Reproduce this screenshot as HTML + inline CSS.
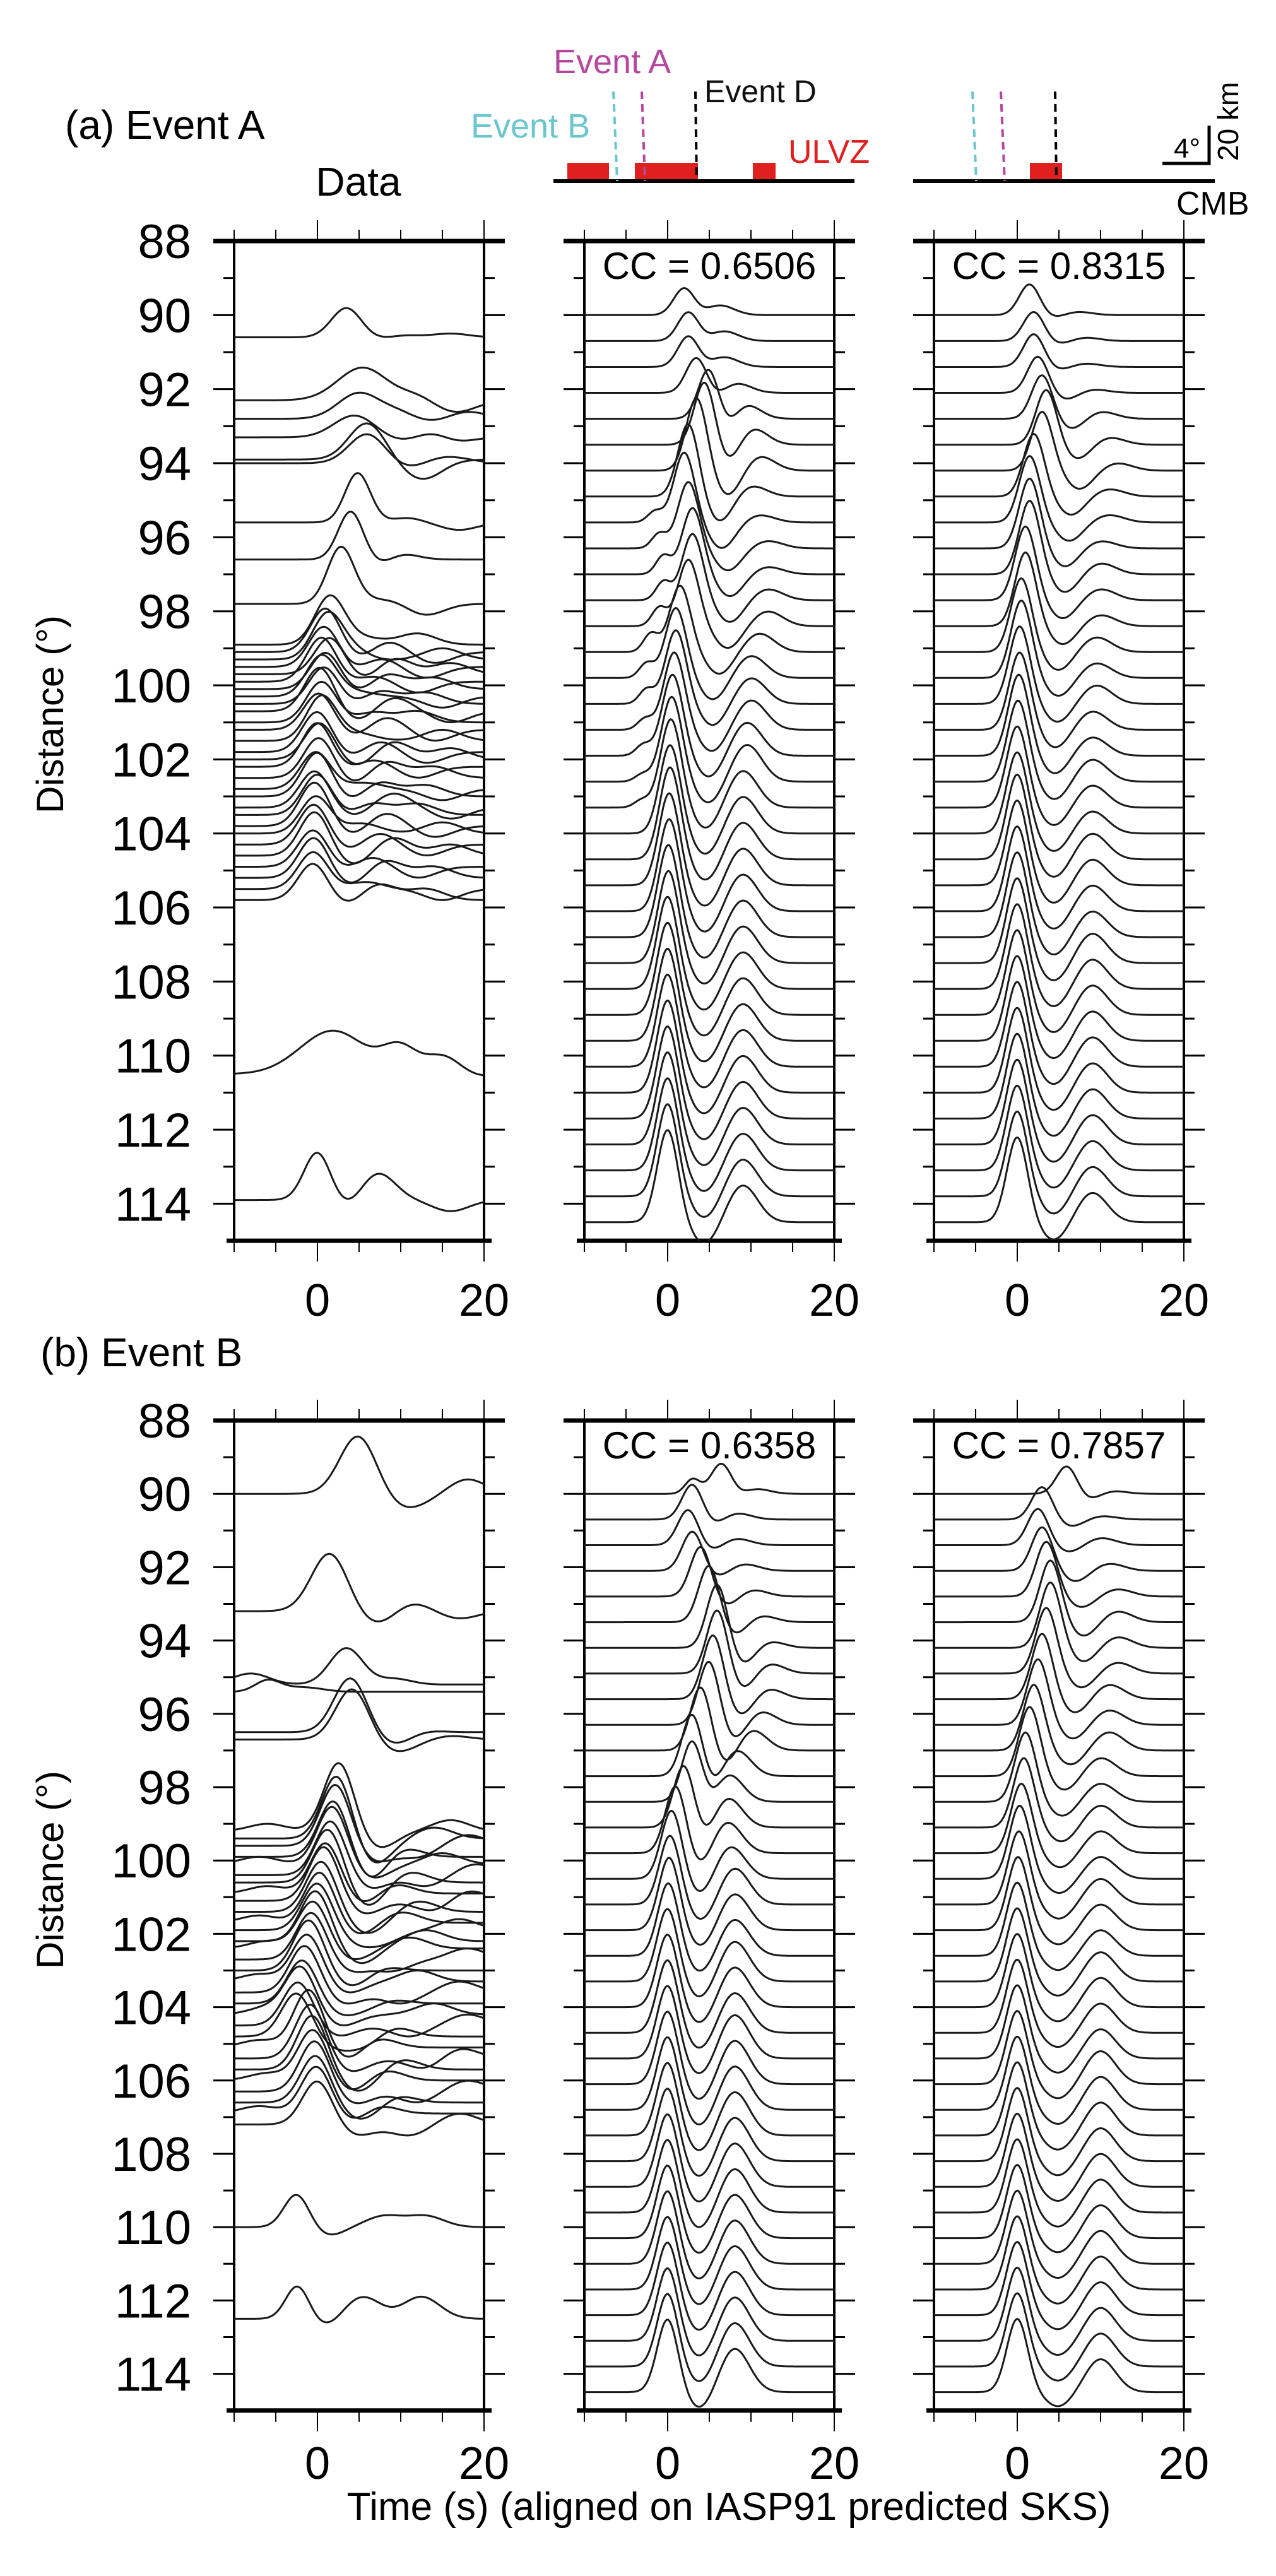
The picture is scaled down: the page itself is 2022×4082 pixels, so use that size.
<!DOCTYPE html>
<html><head><meta charset="utf-8">
<style>
html,body{margin:0;padding:0;background:#fff;}
svg{display:block;}
text{font-family:"Liberation Sans",Arial,sans-serif;}
</style></head>
<body>
<svg id="fig" width="2022" height="4082" viewBox="0 0 2022 4082" xmlns="http://www.w3.org/2000/svg">
<g id="header">
  <text x="103" y="220" font-size="64">(a) Event A</text>
  <text x="568" y="310" font-size="64" text-anchor="middle">Data</text>
  <text x="877" y="116" font-size="54" fill="#b5479e">Event A</text>
  <text x="1116" y="162" font-size="50" fill="#111">Event D</text>
  <text x="746" y="218" font-size="54" fill="#6cc6cd">Event B</text>
  <text x="1249" y="258" font-size="52" fill="#e0201e">ULVZ</text>
  <rect x="899" y="258" width="66" height="28" fill="#e0201e"/>
  <rect x="1006" y="258" width="100" height="28" fill="#e0201e"/>
  <rect x="1193" y="258" width="36" height="28" fill="#e0201e"/>
  <line x1="877" y1="287" x2="1354" y2="287" stroke="#000" stroke-width="6"/>
  <line x1="972" y1="145" x2="978" y2="287" stroke="#6cc6cd" stroke-width="4" stroke-dasharray="12,8"/>
  <line x1="1017" y1="145" x2="1022" y2="287" stroke="#b5479e" stroke-width="4" stroke-dasharray="12,8"/>
  <line x1="1102" y1="145" x2="1104" y2="287" stroke="#000" stroke-width="4" stroke-dasharray="12,8"/>
  <rect x="1632" y="258" width="51" height="28" fill="#e0201e"/>
  <line x1="1447" y1="287" x2="1925" y2="287" stroke="#000" stroke-width="6"/>
  <line x1="1541" y1="145" x2="1547" y2="287" stroke="#6cc6cd" stroke-width="4" stroke-dasharray="12,8"/>
  <line x1="1586" y1="145" x2="1592" y2="287" stroke="#b5479e" stroke-width="4" stroke-dasharray="12,8"/>
  <line x1="1672" y1="145" x2="1674" y2="287" stroke="#000" stroke-width="4" stroke-dasharray="12,8"/>
  <polyline points="1842,259 1916,259 1916,199" fill="none" stroke="#000" stroke-width="5"/>
  <text x="1860" y="250" font-size="44">4°</text>
  <text x="0" y="0" font-size="46" transform="translate(1962,255) rotate(-90)">20 km</text>
  <text x="1864" y="340" font-size="52">CMB</text>
</g>
<g id="axes"></g>
<g id="traces"></g>
<text x="0" y="0" font-size="60" text-anchor="middle" transform="translate(100,1132) rotate(-90)">Distance (°)</text>
<text x="0" y="0" font-size="60" text-anchor="middle" transform="translate(100,2963) rotate(-90)">Distance (°)</text>
<text x="64" y="2165" font-size="64">(b) Event B</text>
<text x="1155" y="3993" font-size="62" text-anchor="middle">Time (s) (aligned on IASP91 predicted SKS)</text>
</svg>
<script>
// ---------- data ----------
const yTickLabels = [88,90,92,94,96,98,100,102,104,106,108,110,112,114];
const xTickLabels = [0,20];
const ccLabels = ["CC = 0.6506","CC = 0.8315","CC = 0.6358","CC = 0.7857"];

// Event A data
const aDataDist = [90.6,92.3,92.8,93.3,93.9,94.0,95.6,96.6,97.8,98.9,99.1,99.3,99.5,99.7,99.9,100.1,100.3,100.5,100.7,101.0,101.2,101.5,101.8,102.0,102.2,102.5,102.8,103.0,103.3,103.5,103.8,104.0,104.3,104.6,104.9,105.2,105.5,105.8,110.5,113.9];
const aDataT1 = [3.5,5.5,5,4.5,6,6,4.8,4,2.8,1.5,1,1.2,0.8,1.5,0.5,1,0.5,0.8,0.3,0.5,0.2,0.5,0,0.3,0,0.2,-0.2,0,-0.3,0,-0.3,-0.2,-0.4,-0.3,-0.5,-0.4,-0.5,-0.5,2,0];
const aDataA1 = [0.8,0.9,0.7,0.6,1.0,0.8,1.3,1.3,1.5,1.3,1.2,1.2,1.1,1.0,1.2,1.0,1.1,1.0,1.2,1.1,1.0,1.2,1.1,1.0,1.2,1.1,1.0,1.2,1.0,1.1,1.2,1.0,1.1,1.2,1.0,1.1,1.0,1.0,1.2,1.3];
const aDataW1 = [1.8,3,2.5,2.5,2.2,2.2,1.5,1.5,1.6,1.8,1.8,1.8,1.8,1.8,1.8,1.8,1.8,1.8,1.8,1.8,1.8,1.8,1.8,1.8,1.8,1.8,1.8,1.8,1.8,1.8,1.8,1.8,1.8,1.8,1.8,1.8,1.8,1.8,4,1.6];
const aDataT2 = [9,12,10,14,13,14,9,9,7,6,8,5,7,9,6,8,5,7,9,6,8,5,7,9,6,8,5,7,9,6,8,5,7,9,6,8,5,7,10,7];
const aDataA2 = [0.2,0.3,0.3,0.3,-0.3,0.2,0.4,0.3,0.5,0.5,0.4,0.5,0.4,0.5,0.4,0.5,0.4,0.5,0.4,0.5,0.4,0.5,0.4,0.5,0.4,0.5,0.4,0.5,0.4,0.5,0.4,0.5,0.4,0.5,0.4,0.5,0.4,0.5,0.9,0.8];
const aDataT3 = [16,17,18,16,19,17,17,16,13,12,14,15,13,16,12,14,15,13,16,12,14,15,13,16,12,14,15,13,16,12,14,15,13,16,12,14,15,13,15,16];
const aDataA3 = [0.1,-0.2,0.2,-0.2,0.0,0.1,-0.2,0.0,-0.3,0.3,-0.3,0.3,-0.3,0.3,-0.3,0.3,-0.3,0.3,-0.3,0.3,-0.3,0.3,-0.3,0.3,-0.3,0.3,-0.3,0.3,-0.3,0.3,-0.3,0.3,-0.3,0.3,-0.3,0.3,-0.3,0.3,0.7,-0.3];

// Event B data
const bDataDist = [90.0,93.2,95.2,95.4,96.5,96.7,99.2,99.4,99.6,99.9,100.1,100.4,100.6,100.9,101.1,101.4,101.7,101.9,102.2,102.4,102.7,103.0,103.3,103.6,103.9,104.2,104.5,104.8,105.1,105.4,105.7,106.0,106.3,106.6,106.9,107.2,110.0,112.5];
const bDataT1 = [4.9,1.5,3.5,-6,4,4.2,2.6,2.4,2.2,2.0,1.8,1.6,1.3,1.0,0.8,0.5,0.3,0,-0.2,-0.5,-0.7,-1,-1.2,-1.5,-1.8,-2,-2.3,-2.5,-1,-0.8,-0.6,-0.5,-0.3,-0.2,-0.1,0,-2.5,-2.4];
const bDataA1 = [1.6,1.6,1.0,0.3,1.5,1.4,1.9,1.8,1.7,1.6,1.6,1.5,1.5,1.4,1.5,1.4,1.4,1.3,1.4,1.3,1.3,1.4,1.3,1.3,1.2,1.3,1.2,1.2,1.6,1.5,1.5,1.4,1.4,1.3,1.3,1.2,0.9,0.9];
const bDataW1 = [2.2,2.2,2,1.5,2,2,1.8,1.8,1.8,1.8,1.8,1.8,1.8,1.8,1.8,1.8,1.8,1.8,1.8,1.8,1.8,1.8,1.8,1.8,1.8,1.8,1.8,1.8,1.8,1.8,1.8,1.8,1.8,1.8,1.8,1.8,1.5,1.4];
const bDataT2 = [18,11,9,-2,12,16,16,14,12,10,15,13,11,9,14,12,10,8,13,11,9,7,12,10,8,14,11,9,7,13,10,8,12,9,7,11,8,5.4];
const bDataA2 = [0.4,0.3,0.4,0.2,0.1,0.1,0.3,0.3,-0.3,0.3,0.3,-0.3,0.3,0.3,-0.3,0.3,0.3,-0.3,0.3,0.3,-0.3,0.3,0.3,-0.3,0.3,0.3,-0.3,0.3,0.3,-0.3,0.3,0.3,-0.3,0.3,0.3,-0.3,0.3,0.6];
const bDataT3 = [-4,17,-8,15,-8,-8,-6,6,18,6,-7,19,6,-6,18,7,-7,17,6,-6,18,6,-7,17,7,-6,18,6,-7,17,6,-6,18,7,-7,17,13,12.5];
const bDataA3 = [0,-0.2,0.3,0,0,0,0.2,-0.3,0.3,-0.3,0.2,0.3,-0.3,0.2,0.3,-0.3,0.2,0.3,-0.3,0.2,0.3,-0.3,0.2,0.3,-0.3,0.2,0.3,-0.3,0.2,0.3,-0.3,0.2,0.3,-0.3,0.2,0.3,0.3,0.6];

// Synthetics (shared distances)
const synDist = [90.0,90.7,91.4,92.1,92.8,93.5,94.2,94.9,95.6,96.3,97.0,97.7,98.4,99.1,99.8,100.5,101.2,101.9,102.6,103.3,104.0,104.7,105.4,106.1,106.8,107.5,108.2,108.9,109.6,110.3,111.0,111.7,112.4,113.1,113.8,114.5];

const a2T1 = [2,2.5,2.5,3.5,5,4.5,3.5,2.5,2,2.5,3,3,2.5,1.5,1,1,0.8,0.6,0.5,0.4,0.3,0.3,0.2,0.2,0.1,0.1,0,0,0,0,0,0,0,0,0,0];
const a2A1 = [0.75,0.8,0.85,1.0,1.5,1.8,2.0,2.0,1.9,1.8,1.8,1.8,1.8,1.8,1.9,2.0,2.1,2.2,2.3,2.4,2.4,2.5,2.5,2.5,2.5,2.5,2.5,2.5,2.5,2.5,2.5,2.5,2.5,2.5,2.5,2.5];
const a2T2 = [6,6.5,6.5,8,9,10,11,10,11,12,12,12,12,11,10,10,10,9.5,9.5,9,9,9,9,9,9,9,9,9,9,9,9,9,9,9,9,9];
const a2A2 = [0.3,0.3,0.3,0.3,0.5,0.5,0.4,0.3,0.2,0.2,0.2,0.3,0.4,0.5,0.6,0.7,0.8,0.9,1,1,1,1,1,1,1,1,1,1,1,1,1,1,1,1,1,1];
const a2Tr = [0.1,0.1,0.1,0.2,0.5,0.6,0.7,0.7,0.7,0.6,0.6,0.6,0.6,0.6,0.6,0.6,0.6,0.6,0.6,0.6,0.6,0.6,0.6,0.6,0.6,0.6,0.6,0.6,0.6,0.6,0.6,0.6,0.6,0.6,0.6,0.6];
const a2Pre = [0,0,0,0,0,0,0,0,0.3,0.4,0.5,0.5,0.5,0.5,0.4,0.4,0.3,0.3,0.2,0.2,0,0,0,0,0,0,0,0,0,0,0,0,0,0,0,0];

const a3T1 = [1.5,2,2,2.5,3,3.5,3,2,1.5,1.5,1.5,1,1,0.5,0.5,0.3,0.3,0.2,0.1,0,0,0,0,0,0,0,0,0,0,0,0,0,0,0,0,0];
const a3A1 = [0.85,0.8,0.9,1.0,1.2,1.5,1.6,1.7,1.8,1.9,2,2,2,2,2.1,2.1,2.1,2.2,2.2,2.2,2.2,2.3,2.3,2.3,2.3,2.3,2.3,2.3,2.3,2.3,2.3,2.3,2.3,2.3,2.3,2.3];
const a3T2 = [7,8,8,9,10,11,12,11,11,10,10,10,10,9.5,9.5,9.5,9,9,9,9,9,9,9,9,9,9,9,9,9,9,9,9,9,9,9,9];
const a3A2 = [0.1,0.1,0.1,0.1,0.2,0.2,0.2,0.2,0.2,0.2,0.3,0.3,0.3,0.4,0.4,0.5,0.5,0.5,0.6,0.6,0.6,0.7,0.7,0.7,0.7,0.8,0.8,0.8,0.8,0.8,0.8,0.8,0.8,0.8,0.8,0.8];
const a3Tr = [0.1,0.1,0.1,0.2,0.3,0.4,0.5,0.5,0.5,0.5,0.5,0.5,0.5,0.5,0.5,0.5,0.5,0.5,0.5,0.5,0.5,0.5,0.5,0.5,0.5,0.5,0.5,0.5,0.5,0.5,0.5,0.5,0.5,0.5,0.5,0.5];
const a3Pre = [0,0,0,0,0,0,0,0,0,0,0,0,0,0,0,0,0,0,0,0,0,0,0,0,0,0,0,0,0,0,0,0,0,0,0,0];

const b2T1 = [6.5,3,2.5,3,4,5,6,6,5.5,5,4,3,3,2,1,0.5,0.3,0.2,0.1,0,0,0,0,0,0,0,0,0,0,0,0,0,0,0,0,0];
const b2A1 = [0.9,1,1,1.1,1.4,1.6,1.8,1.8,1.8,1.8,1.8,1.8,1.8,1.8,1.9,1.9,1.9,2,2,2,2,2,2,2,2,2,2,2,2,2,2,2,2,2,2,2];
const b2T2 = [10,8,8,9,10,11,12,12,12,11,10,8,7,7,7,7.5,8,8,8,8,8,8,8,8,8,8,8,8,8,8,8,8,8,8,8,8];
const b2A2 = [0.2,0.2,0.2,0.2,0.2,0.2,0.2,0.3,0.3,0.4,0.6,0.8,0.9,0.9,0.9,0.9,1,1,1,1.1,1.1,1.1,1.2,1.2,1.2,1.2,1.2,1.2,1.2,1.2,1.2,1.2,1.2,1.2,1.2,1.2];
const b2Tr = [0.2,0.2,0.2,0.2,0.3,0.4,0.5,0.5,0.5,0.5,0.5,0.5,0.5,0.5,0.5,0.5,0.5,0.5,0.5,0.5,0.5,0.5,0.5,0.5,0.5,0.5,0.5,0.5,0.5,0.5,0.5,0.5,0.5,0.5,0.5,0.5];
const b2Pre = [0.4,0,0,0,0,0,0,0,0,0,0,0,0,0,0,0,0,0,0,0,0,0,0,0,0,0,0,0,0,0,0,0,0,0,0,0];

const b3T1 = [6,3,2.5,3,3.5,4,4,3.5,3,2.5,2,1.5,1,0.8,0.5,0.3,0.2,0.1,0,0,0,0,0,0,0,0,0,0,0,0,0,0,0,0,0,0];
const b3A1 = [0.8,0.9,1,1.2,1.5,1.7,1.8,1.8,1.8,1.8,1.8,1.9,1.9,1.9,1.9,2,2,2,2,2,2,2,2,2,2,2,2,2,2,2,2,2,2,2,2,2];
const b3T2 = [11,10,10,11,12,12,12,12,11,11,11,10,10,10,10,10,10,10,10,10,10,10,10,10,10,10,10,10,10,10,10,10,10,10,10,10];
const b3A2 = [0.1,0.1,0.2,0.2,0.2,0.3,0.3,0.3,0.4,0.4,0.5,0.5,0.5,0.6,0.6,0.6,0.7,0.7,0.7,0.8,0.8,0.8,0.8,0.9,0.9,0.9,0.9,0.9,0.9,0.9,0.9,0.9,0.9,0.9,0.9,0.9];
const b3Tr = [0.2,0.2,0.2,0.3,0.3,0.4,0.4,0.4,0.4,0.4,0.4,0.4,0.4,0.4,0.4,0.4,0.4,0.4,0.4,0.4,0.4,0.4,0.4,0.4,0.4,0.4,0.4,0.4,0.4,0.4,0.4,0.4,0.4,0.4,0.4,0.4];
const b3Pre = [0,0,0,0,0,0,0,0,0,0,0,0,0,0,0,0,0,0,0,0,0,0,0,0,0,0,0,0,0,0,0,0,0,0,0,0];

// ---------- layout ----------
const NS = "http://www.w3.org/2000/svg";
const colX = [371, 926, 1480];
const rows = [{y0:382, ppd:58.67, tickLabelY:2085}, {y0:2251, ppd:58.1, tickLabelY:3928}];
const PPS = 13.2, PW = 396;
function mk(tag, attrs, parent){const e=document.createElementNS(NS,tag);for(const k in attrs)e.setAttribute(k,attrs[k]);parent.appendChild(e);return e;}
const axes = document.getElementById('axes');
const tracesG = document.getElementById('traces');
const defs = mk('defs',{},document.getElementById('fig'));

function xScale(col,t){return colX[col] + (t+10)*PPS;}
function yScale(row,d){return rows[row].y0 + (d-88)*rows[row].ppd;}
function g(t,c,w){const z=(t-c)/w;return Math.exp(-0.5*z*z);}

function drawFrame(row,col){
  const x0=colX[col], x1=x0+PW, y0=rows[row].y0, y1=yScale(row,115);
  const fr = mk('g',{},axes);
  
  
  mk('line',{x1:x0,y1:y0,x2:x0,y2:y1,stroke:'#000','stroke-width':4},fr);
  mk('line',{x1:x1,y1:y0,x2:x1,y2:y1,stroke:'#000','stroke-width':4},fr);
  mk('line',{x1:x0-33,y1:y0,x2:x1+33,y2:y0,stroke:'#000','stroke-width':7},fr);
  mk('line',{x1:x0-12,y1:y1,x2:x1+12,y2:y1,stroke:'#000','stroke-width':7},fr);
  for(let d=89; d<=114; d++){
    const y=yScale(row,d), L = d%2===0?33:17;
    mk('line',{x1:x0-L,y1:y,x2:x0,y2:y,stroke:'#000','stroke-width':3},fr);
    mk('line',{x1:x1,y1:y,x2:x1+L,y2:y,stroke:'#000','stroke-width':3},fr);
  }
  for(let t=-10;t<=20;t+=5){
    const x=xScale(col,t), L=(t===0||t===20)?33:18;
    mk('line',{x1:x,y1:y0-L,x2:x,y2:y0,stroke:'#000','stroke-width':2},fr);
    mk('line',{x1:x,y1:y1,x2:x,y2:y1+L,stroke:'#000','stroke-width':2},fr);
  }
  xTickLabels.forEach(v=>{
    const tx=mk('text',{x:xScale(col,v),y:rows[row].tickLabelY,'font-size':72,'text-anchor':'middle'},axes);
    tx.textContent=v;
    
    
  });
  if(col===0){
    yTickLabels.forEach(v=>{
      const ty=mk('text',{x:303,y:yScale(row,v)+27,'font-size':76,'text-anchor':'end'},axes);
      ty.textContent=v;
      
      
    });
  }
  const cp = mk('clipPath',{id:'clip'+row+col},defs);
  mk('rect',{x:x0,y:y0,width:PW,height:y1-y0},cp);
}

function drawTrace(row,col,d,comps,name){
  let pts=[];
  for(let t=-10;t<=20.001;t+=0.15){
    let v=0;
    comps.forEach(c=>{v+=c[1]*g(t,c[0],c[2]);});
    pts.push(xScale(col,t).toFixed(1)+','+(yScale(row,d)-v*rows[row].ppd).toFixed(1));
  }
  const p=mk('polyline',{points:pts.join(' '),fill:'none',stroke:'#1a1a1a','stroke-width':3,'clip-path':'url(#clip'+row+col+')'},tracesG);
  
  
}

function drawData(row,dist,t1,a1,w1,t2,a2,t3,a3){
  dist.forEach((d,i)=>{
    drawTrace(row,0,d,[[t1[i],a1[i],w1[i]],[t1[i]+2.6*w1[i],-0.25*a1[i],w1[i]*1.2],[t2[i],a2[i],2.2],[t3[i],a3[i],2.2]],'data-trace');
  });
}
function drawSyn(row,col,t1,a1,t2,a2,tr,pre){
  synDist.forEach((d,i)=>{
    drawTrace(row,col,d,[[t1[i],a1[i],1.25],[(t1[i]+t2[i])/2,-tr[i],1.6],[t2[i],a2[i],1.8],[t1[i]-3.5,pre[i],0.9]],'synthetic-trace');
  });
}

for(let r=0;r<2;r++)for(let c=0;c<3;c++)drawFrame(r,c);
drawData(0,aDataDist,aDataT1,aDataA1,aDataW1,aDataT2,aDataA2,aDataT3,aDataA3);
drawData(1,bDataDist,bDataT1,bDataA1,bDataW1,bDataT2,bDataA2,bDataT3,bDataA3);
drawSyn(0,1,a2T1,a2A1,a2T2,a2A2,a2Tr,a2Pre);
drawSyn(0,2,a3T1,a3A1,a3T2,a3A2,a3Tr,a3Pre);
drawSyn(1,1,b2T1,b2A1,b2T2,b2A2,b2Tr,b2Pre);
drawSyn(1,2,b3T1,b3A1,b3T2,b3A2,b3Tr,b3Pre);

[[0,1],[0,2],[1,1],[1,2]].forEach((rc,i)=>{
  const cx=colX[rc[1]]+PW/2, y=rows[rc[0]].y0+60;
  const t=mk('text',{x:cx,y:y,'font-size':60,'text-anchor':'middle'},axes.parentNode);
  t.textContent=ccLabels[i];
  
  
});
</script>
</body></html>
